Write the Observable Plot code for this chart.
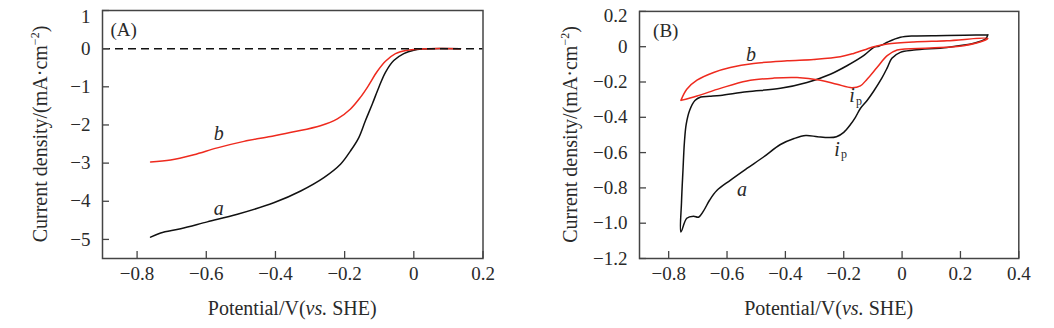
<!DOCTYPE html>
<html><head><meta charset="utf-8">
<script src="https://cdn.jsdelivr.net/npm/d3@7"></script>
<script src="https://cdn.jsdelivr.net/npm/@observablehq/plot@0.6"></script>
<style>
body{margin:0;background:#fff;}
#wrap{position:relative;width:1054px;height:328px;overflow:hidden;}
#pa{position:absolute;left:0;top:0;}
#pb{position:absolute;left:530px;top:0;}
</style></head><body>
<div id="wrap"><div id="pa"></div><div id="pb"></div></div>
<script>
// ---- Panel A (LSV) ----
const potA_a = [-0.761,-0.732,-0.674,-0.597,-0.510,-0.405,-0.327,-0.260,-0.212,-0.183,-0.159,-0.140,-0.120,-0.101,-0.082,-0.058,-0.029,0.000,0.024,0.050,0.135];
const curA_a = [-4.94,-4.83,-4.72,-4.54,-4.34,-4.04,-3.73,-3.38,-3.03,-2.68,-2.33,-1.89,-1.45,-1.01,-0.62,-0.31,-0.13,-0.04,-0.01,0,0];
const potA_b = [-0.761,-0.703,-0.636,-0.568,-0.491,-0.414,-0.347,-0.270,-0.221,-0.183,-0.154,-0.132,-0.106,-0.082,-0.053,-0.019,0.019,0.040,0.135];
const curA_b = [-2.97,-2.92,-2.78,-2.60,-2.43,-2.30,-2.18,-2.02,-1.84,-1.58,-1.27,-0.98,-0.60,-0.33,-0.13,-0.04,-0.01,0,0];
const xTicksA = [-0.8,-0.6,-0.4,-0.2,0,0.2];
const yTicksA = [1,0,-1,-2,-3,-4,-5];

// ---- Panel B (CV) ----
const potB_a = [0.294,0.286,0.246,0.154,0.040,-0.006,-0.035,-0.051,-0.070,-0.097,-0.120,-0.143,-0.160,-0.177,-0.200,-0.225,-0.250,-0.290,-0.330,-0.370,-0.417,-0.475,-0.532,-0.589,-0.635,-0.660,-0.681,-0.698,-0.715,-0.738,-0.758,
  -0.756,-0.751,-0.746,-0.740,-0.728,-0.710,-0.690,-0.660,-0.623,-0.532,-0.417,-0.326,-0.246,-0.189,-0.132,-0.097,-0.080,-0.069,-0.051,-0.006,0.040,0.154,0.294];
const curB_a = [0.068,0.044,0.019,-0.004,-0.019,-0.032,-0.065,-0.120,-0.180,-0.251,-0.305,-0.350,-0.400,-0.441,-0.485,-0.510,-0.515,-0.510,-0.503,-0.520,-0.554,-0.625,-0.690,-0.757,-0.815,-0.870,-0.932,-0.966,-0.960,-0.972,-1.050,
  -0.880,-0.700,-0.540,-0.440,-0.360,-0.305,-0.285,-0.281,-0.276,-0.255,-0.236,-0.203,-0.156,-0.108,-0.051,-0.004,0.003,0.010,0.025,0.053,0.061,0.063,0.068];
const potB_b = [-0.758,-0.738,-0.703,-0.646,-0.589,-0.509,-0.394,-0.303,-0.212,-0.166,-0.120,-0.097,-0.051,0.040,0.154,0.294,
  0.286,0.211,0.097,-0.017,-0.051,-0.086,-0.120,-0.143,-0.172,-0.223,-0.280,-0.360,-0.440,-0.532,-0.623,-0.703,-0.758];
const curB_b = [-0.304,-0.241,-0.190,-0.146,-0.118,-0.095,-0.080,-0.072,-0.057,-0.038,-0.013,0.000,0.015,0.027,0.034,0.047,
  0.038,0.006,-0.008,-0.019,-0.051,-0.118,-0.184,-0.222,-0.232,-0.213,-0.190,-0.175,-0.178,-0.194,-0.236,-0.279,-0.304];
const xTicksB = [-0.8,-0.6,-0.4,-0.2,0,0.2,0.4];
const yTicksB = [0.2,0,-0.2,-0.4,-0.6,-0.8,-1.0,-1.2];

const FONT = '"Liberation Serif","Times New Roman",serif';
const BLACK = "#111", RED = "#ee2a1e", FRAME = "#444", TXT = "#2a2a2a";
const fmtX = d => d === 0 ? "0" : (d < 0 ? "\u2212" : "") + Math.abs(d).toFixed(1);
const fmtInt = d => d === 0 ? "0" : (d < 0 ? "\u2212" : "") + Math.abs(d);
const toRows = (xs, ys) => xs.map((x, i) => ({x, y: ys[i]}));

function addLabels(svg, cx, ly, yx, cy) {
  const s = d3.select(svg);
  const t = s.append("text").attr("x", cx).attr("y", ly).attr("text-anchor", "middle")
    .attr("font-family", FONT).attr("font-size", 20).attr("fill", TXT);
  t.append("tspan").text("Potential/V(");
  t.append("tspan").attr("font-style", "italic").text("vs.");
  t.append("tspan").text(" SHE)");
  const y = s.append("text").attr("transform", `translate(${yx},${cy}) rotate(-90)`)
    .attr("text-anchor", "middle").attr("dy", "0.35em")
    .attr("font-family", FONT).attr("font-size", 20).attr("fill", TXT);
  y.append("tspan").text("Current density/(mA\u00b7cm");
  y.append("tspan").attr("font-size", 12).attr("dy", -8).text("\u22122");
  y.append("tspan").attr("dy", 8).text(")");
}

// Panel A
{
  const W = 530, H = 328, mL = 102, mR = 47.5, mT = 10, mB = 70;
  const pw = W - mL - mR, ph = H - mT - mB;
  const chart = Plot.plot({
    width: W, height: H, marginLeft: mL, marginRight: mR, marginTop: mT, marginBottom: mB,
    style: {fontFamily: FONT, fontSize: "19px", color: TXT, background: "white", overflow: "visible"},
    x: {domain: [-0.9, 0.2]},
    y: {domain: [-5.5, 1]},
    marks: [
      Plot.line(toRows(potA_a, curA_a), {x: "x", y: "y", stroke: BLACK, strokeWidth: 1.5, curve: "catmull-rom"}),
      Plot.line(toRows(potA_b, curA_b), {x: "x", y: "y", stroke: RED, strokeWidth: 1.5, curve: "catmull-rom"}),
      Plot.ruleY([0], {stroke: BLACK, strokeWidth: 1.5, strokeDasharray: "8,5"}),
      Plot.tickX(xTicksA, {x: d => d, insetTop: ph - 7, stroke: FRAME, strokeWidth: 1.3}),
      Plot.tickY(yTicksA, {y: d => d, insetRight: pw - 7, stroke: FRAME, strokeWidth: 1.3}),
      Plot.axisX(xTicksA, {tickSize: 0, tickPadding: 8, label: null, tickFormat: fmtX}),
      Plot.axisY(yTicksA.filter(d => d !== 1), {tickSize: 0, tickPadding: 12, label: null, tickFormat: fmtInt}),
      Plot.axisY([1], {tickSize: 0, tickPadding: 12, label: null, tickFormat: fmtInt, dy: 6}),
      Plot.frame({stroke: FRAME, strokeWidth: 1.5}),
      Plot.text(["(A)"], {x: -0.839, y: 0.48, text: d => d, fontSize: 19, fill: TXT}),
      Plot.text(["b"], {x: -0.564, y: -2.23, text: d => d, fontSize: 20, fontStyle: "italic", fill: TXT}),
      Plot.text(["a"], {x: -0.564, y: -4.18, text: d => d, fontSize: 20, fontStyle: "italic", fill: TXT})
    ]
  });
  addLabels(chart, mL + pw / 2, 315, 40, mT + ph / 2);
  document.getElementById("pa").append(chart);
}

// Panel B
{
  const W = 524, H = 328, mL = 109, mR = 35.7, mT = 10.9, mB = 70;
  const pw = W - mL - mR, ph = H - mT - mB;
  const chart = Plot.plot({
    width: W, height: H, marginLeft: mL, marginRight: mR, marginTop: mT, marginBottom: mB,
    style: {fontFamily: FONT, fontSize: "19px", color: TXT, background: "white", overflow: "visible"},
    x: {domain: [-0.9, 0.4]},
    y: {domain: [-1.2, 0.2]},
    marks: [
      Plot.line(toRows(potB_a, curB_a), {x: "x", y: "y", stroke: BLACK, strokeWidth: 1.5, curve: "catmull-rom"}),
      Plot.line(toRows(potB_b, curB_b), {x: "x", y: "y", stroke: RED, strokeWidth: 1.5, curve: "catmull-rom"}),
      Plot.tickX(xTicksB, {x: d => d, insetTop: ph - 7, stroke: FRAME, strokeWidth: 1.3}),
      Plot.tickY(yTicksB, {y: d => d, insetRight: pw - 7, stroke: FRAME, strokeWidth: 1.3}),
      Plot.axisX(xTicksB, {tickSize: 0, tickPadding: 8, label: null, tickFormat: fmtX}),
      Plot.axisY(yTicksB.filter(d => d !== 0.2), {tickSize: 0, tickPadding: 12, label: null, tickFormat: fmtX}),
      Plot.axisY([0.2], {tickSize: 0, tickPadding: 12, label: null, tickFormat: fmtX, dy: 5}),
      Plot.frame({stroke: FRAME, strokeWidth: 1.5}),
      Plot.text(["(B)"], {x: -0.810, y: 0.091, text: d => d, fontSize: 19, fill: TXT}),
      Plot.text(["b"], {x: -0.518, y: -0.047, text: d => d, fontSize: 20, fontStyle: "italic", fill: TXT}),
      Plot.text(["a"], {x: -0.549, y: -0.811, text: d => d, fontSize: 20, fontStyle: "italic", fill: TXT}),
      Plot.text(["i"], {x: -0.1715, y: -0.279, text: d => d, fontSize: 20, fontStyle: "italic", fill: TXT}),
      Plot.text(["p"], {x: -0.1715, y: -0.279, text: d => d, fontSize: 12, dx: 7, dy: 5, fill: TXT}),
      Plot.text(["i"], {x: -0.223, y: -0.581, text: d => d, fontSize: 20, fontStyle: "italic", fill: TXT}),
      Plot.text(["p"], {x: -0.223, y: -0.581, text: d => d, fontSize: 12, dx: 7, dy: 5, fill: TXT})
    ]
  });
  addLabels(chart, mL + pw / 2, 315, 40, mT + ph / 2);
  document.getElementById("pb").append(chart);
}
</script>
</body></html>
